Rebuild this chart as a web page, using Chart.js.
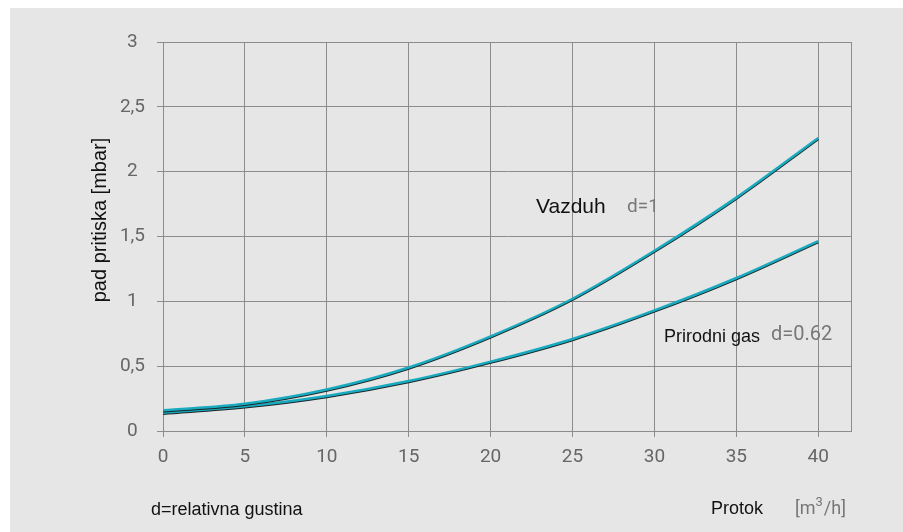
<!DOCTYPE html>
<html>
<head>
<meta charset="utf-8">
<script src="https://cdn.jsdelivr.net/npm/chart.js@4"></script>
<style>
  body { margin: 0; background: #fff; }
  #wrap { position: absolute; left: 10px; top: 8px; width: 893px; height: 524px; background: #e6e6e6; }
</style>
</head>
<body>
<div id="wrap"><canvas id="chart1"></canvas></div>
<script>
// protok [m3/h] i pad pritiska [mbar]
const flowValues = [0, 5, 10, 15, 20, 25, 30, 35, 40];
const airDrop = [0.16, 0.21, 0.32, 0.49, 0.73, 1.02, 1.39, 1.80, 2.26];
const gasDrop = [0.14, 0.19, 0.27, 0.385, 0.535, 0.71, 0.93, 1.18, 1.465];
const xTicks = [0, 5, 10, 15, 20, 25, 30, 35, 40];
const yTicks = [0, 0.5, 1, 1.5, 2, 2.5, 3];

const lineColor = '#19aabf';
const gridColor = '#8c8c8c';
const tickFont = { family: 'Roboto', size: 19 };

const toPoints = (ys) => flowValues.map((x, i) => ({ x: x, y: ys[i] }));

const lineShadow = {
  id: 'lineShadow',
  beforeDatasetsDraw(chart) {
    const ctx = chart.ctx;
    ctx.save();
    ctx.shadowColor = '#1b2626';
    ctx.shadowOffsetY = 1;
    ctx.shadowBlur = 0;
  },
  afterDatasetsDraw(chart) {
    chart.ctx.restore();
  }
};

const frameAndText = {
  id: 'frameAndText',
  beforeDatasetsDraw(chart) {
    const { ctx, chartArea: a } = chart;
    ctx.save();
    ctx.strokeStyle = gridColor;
    ctx.lineWidth = 1;
    ctx.strokeRect(Math.round(a.left) + 0.5, Math.round(a.top) + 0.5, Math.round(a.right - a.left), Math.round(a.bottom - a.top));
    ctx.restore();
  },
  afterDraw(chart) {
    const ctx = chart.ctx;
    ctx.save();
    ctx.textBaseline = 'middle';
    ctx.textAlign = 'left';

    // y axis title
    ctx.save();
    ctx.translate(90, 212);
    ctx.rotate(-Math.PI / 2);
    ctx.textAlign = 'center';
    ctx.fillStyle = '#111';
    ctx.font = '20px "Liberation Sans", Arial, sans-serif';
    ctx.fillText('pad pritiska [mbar]', 0, 0);
    ctx.restore();

    ctx.fillStyle = '#111';
    ctx.font = '21px "Liberation Sans", Arial, sans-serif';
    ctx.fillText('Vazduh', 526, 199);
    ctx.fillStyle = '#777';
    ctx.font = '19px Roboto, sans-serif';
    ctx.fillText('d=1', 617, 199);

    ctx.fillStyle = '#111';
    ctx.font = '18px "Liberation Sans", Arial, sans-serif';
    ctx.fillText('Prirodni gas', 654, 329);
    ctx.fillStyle = '#777';
    ctx.font = '20px Roboto, sans-serif';
    ctx.fillText('d=0.62', 761, 327);

    ctx.fillStyle = '#111';
    ctx.font = '18px "Liberation Sans", Arial, sans-serif';
    ctx.fillText('d=relativna gustina', 141, 502);
    ctx.fillText('Protok', 701, 501);

    ctx.fillStyle = '#777';
    ctx.font = '18px Roboto, sans-serif';
    ctx.fillText('[m', 785, 501);
    const w = ctx.measureText('[m').width;
    ctx.font = '13px Roboto, sans-serif';
    ctx.fillText('3', 785 + w, 495);
    const w3 = ctx.measureText('3').width;
    ctx.font = '18px Roboto, sans-serif';
    ctx.fillText('/h]', 785 + w + w3 + 1, 501);
    ctx.restore();
  }
};

const config1 = {
  type: 'line',
  data: {
    datasets: [
      {
        label: 'Vazduh d=1',
        data: toPoints(airDrop),
        borderColor: lineColor,
        borderWidth: 2.5,
        pointRadius: 0,
        cubicInterpolationMode: 'monotone',
        fill: false
      },
      {
        label: 'Prirodni gas d=0.62',
        data: toPoints(gasDrop),
        borderColor: lineColor,
        borderWidth: 2.5,
        pointRadius: 0,
        cubicInterpolationMode: 'monotone',
        fill: false
      }
    ]
  },
  options: {
    responsive: true,
    maintainAspectRatio: false,
    animation: false,
    layout: { padding: { left: 0, top: 34, right: 52, bottom: 0 } },
    plugins: {
      legend: { display: false },
      tooltip: { enabled: false },
      title: { display: false }
    },
    scales: {
      x: {
        type: 'linear',
        min: 0,
        max: 42,
        afterFit: (s) => { s.height = 101; },
        afterBuildTicks: (s) => { s.ticks = xTicks.map(v => ({ value: v })); },
        grid: { color: gridColor, tickLength: 6, tickColor: gridColor },
        border: { color: gridColor },
        ticks: { font: tickFont, color: '#666', padding: 9, maxRotation: 0 }
      },
      y: {
        type: 'linear',
        min: 0,
        max: 3,
        afterFit: (s) => { s.width = 153; },
        afterBuildTicks: (s) => { s.ticks = yTicks.map(v => ({ value: v })); },
        grid: { color: gridColor, tickLength: 6, tickColor: gridColor },
        border: { color: gridColor },
        ticks: {
          font: tickFont,
          color: '#666',
          padding: 12,
          crossAlign: 'center',
          callback: (v) => String(v).replace('.', ',')
        }
      }
    }
  },
  plugins: [frameAndText, lineShadow]
};

const chart1 = new Chart(document.getElementById('chart1'), config1);
</script>
</body>
</html>
